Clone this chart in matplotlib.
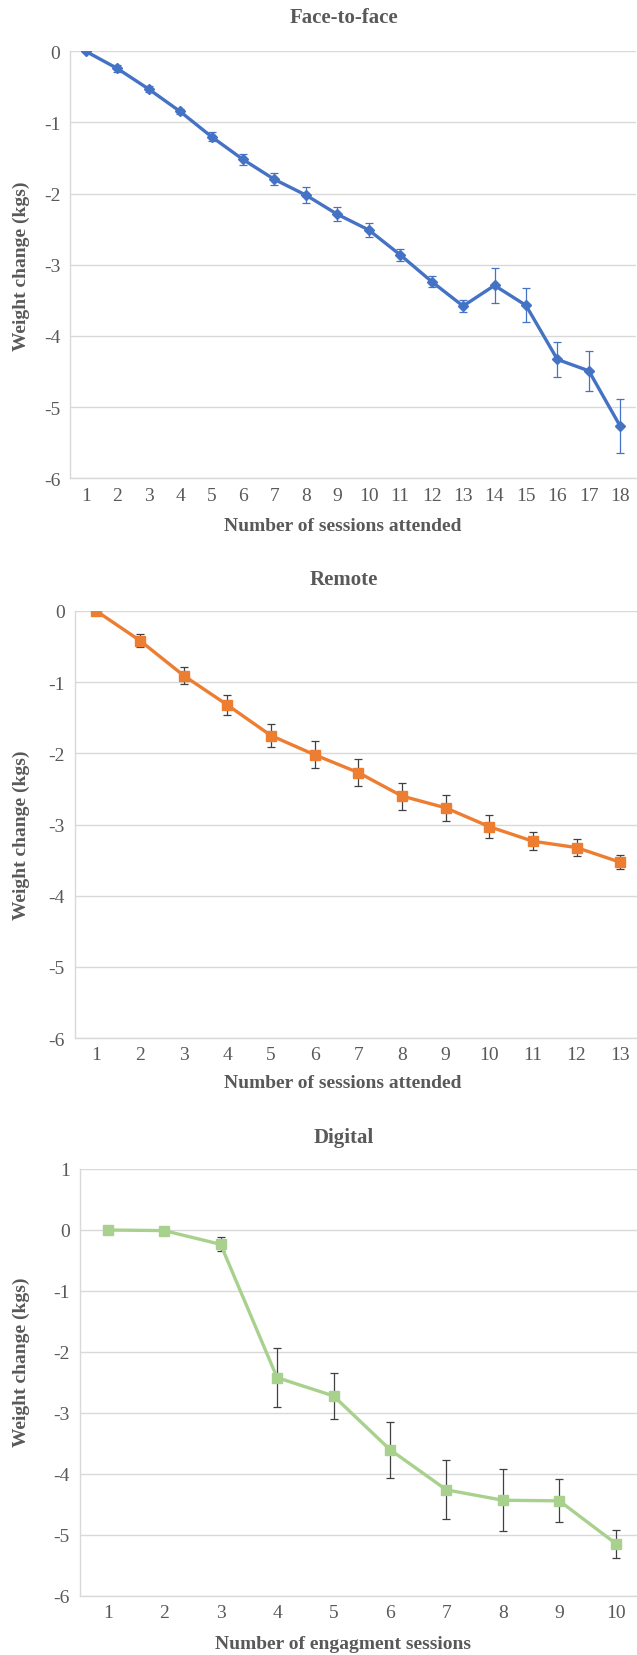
import matplotlib
matplotlib.use('Agg')
import matplotlib.pyplot as plt

# Face-to-face
f2f_sessions = list(range(1, 19))
f2f_change = [0, -0.24, -0.53, -0.845, -1.20, -1.52, -1.80, -2.02, -2.29, -2.51,
              -2.86, -3.235, -3.58, -3.29, -3.57, -4.33, -4.49, -5.27]
f2f_err = [0.01, 0.05, 0.04, 0.04, 0.065, 0.08, 0.085, 0.11, 0.10, 0.10,
           0.085, 0.078, 0.09, 0.25, 0.24, 0.25, 0.28, 0.38]

# Remote
remote_sessions = list(range(1, 14))
remote_change = [0, -0.416, -0.907, -1.32, -1.75, -2.02, -2.27, -2.60, -2.765,
                 -3.03, -3.235, -3.324, -3.53]
remote_err = [0.0, 0.094, 0.124, 0.14, 0.164, 0.19, 0.196, 0.19, 0.185,
              0.164, 0.127, 0.115, 0.10]

# Digital
digital_sessions = list(range(1, 11))
digital_change = [0, -0.01, -0.235, -2.42, -2.72, -3.60, -4.26, -4.43, -4.44, -5.14]
digital_err = [0.0, 0.0, 0.115, 0.48, 0.38, 0.46, 0.485, 0.51, 0.355, 0.23]

TXT = '#595959'
GRID = '#D9D9D9'
W, H = 637, 1656

plt.rcParams['font.family'] = ['Liberation Serif', 'DejaVu Serif']
plt.rcParams['axes.unicode_minus'] = False

fig = plt.figure(figsize=(W / 100, H / 100), dpi=100)


def add_panel(px_left, px_right, px_top, px_bottom, x, y, err, color, marker,
              msize, ecolor, ylim, title, title_y, xlabel, xlabel_y, ylabel_y):
    ax = fig.add_axes([px_left / W, 1 - px_bottom / H,
                       (px_right - px_left) / W, (px_bottom - px_top) / H])
    ax.errorbar(x, y, yerr=err, color=color, lw=2.4, marker=marker, ms=msize,
                ecolor=ecolor, elinewidth=0.9, capsize=2.8, capthick=0.9,
                zorder=3)
    ax.set_xlim(0.5, len(x) + 0.5)
    ax.set_ylim(*ylim)
    ax.set_xticks(x)
    ax.set_xticklabels([str(v) for v in x])
    ax.set_yticks(range(ylim[0], ylim[1] + 1))
    ax.yaxis.grid(True, color=GRID, lw=1.0)
    ax.set_axisbelow(True)
    for s in ['top', 'right']:
        ax.spines[s].set_visible(False)
    for s in ['left', 'bottom']:
        ax.spines[s].set_color(GRID)
        ax.spines[s].set_linewidth(1.0)
    ax.tick_params(length=0, labelsize=14, colors=TXT)
    ax.tick_params(axis='y', pad=7)
    ax.tick_params(axis='x', pad=6)
    fig.text(344 / W, 1 - title_y / H, title, ha='center', va='center',
             fontsize=15, fontweight='bold', color=TXT)
    fig.text(343 / W, 1 - xlabel_y / H, xlabel, ha='center', va='center',
             fontsize=14, fontweight='bold', color=TXT)
    fig.text(21 / W, 1 - ylabel_y / H, 'Weight change (kgs)', ha='center',
             va='center', rotation=90, fontsize=14, fontweight='bold',
             color=TXT)
    return ax


add_panel(70, 636, 52.3, 479.3, f2f_sessions, f2f_change, f2f_err,
          '#4472C4', 'D', 5, '#4472C4', (-6, 0),
          'Face-to-face', 18, 'Number of sessions attended', 527, 266)

add_panel(74.5, 642, 612, 1039, remote_sessions, remote_change, remote_err,
          '#ED7D31', 's', 6.5, '#404040', (-6, 0),
          'Remote', 580, 'Number of sessions attended', 1083, 835)

add_panel(79.5, 644, 1170, 1597, digital_sessions, digital_change,
          digital_err, '#A9D18E', 's', 6.5, '#404040', (-6, 1),
          'Digital', 1138, 'Number of engagment sessions', 1645, 1362)

fig.savefig('out.png', dpi=100)
